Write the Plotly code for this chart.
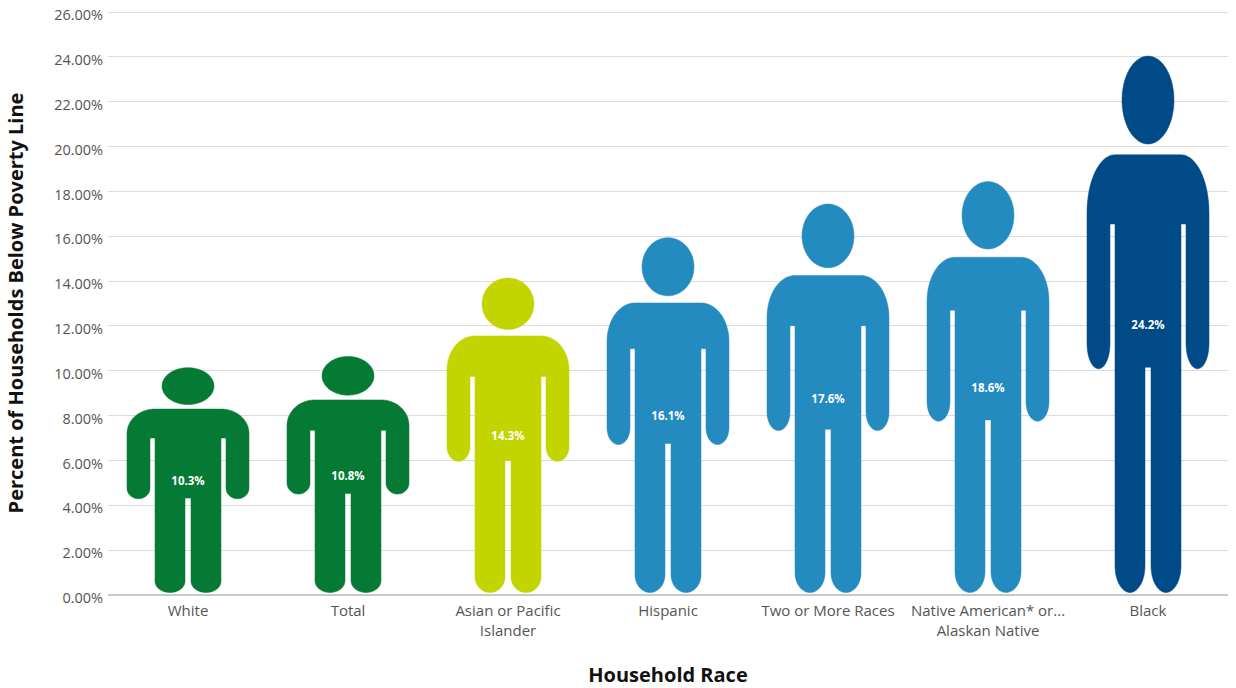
import numpy as np
import plotly.graph_objects as go

categories = ["White", "Total", "Asian or Pacific<br>Islander", "Hispanic", "Two or More Races",
              "Native American* or...<br>Alaskan Native", "Black"]
values = [10.3, 10.8, 14.3, 16.1, 17.6, 18.6, 24.2]
colors = ["#057A35", "#057A35", "#C3D500", "#248BC1", "#248BC1", "#248BC1", "#004B87"]
y_ticks = list(range(0, 27, 2))

SLOT_PX = 160.0
PAD_FOOT = 0.11
PAD_HEAD = 0.16
LABEL_NUDGE = 0.12


def arc(cx, cy, rx, ry, a0, a1, n=24):
    a = np.radians(np.linspace(a0, a1, n))
    return cx + rx * np.cos(a), cy + ry * np.sin(a)


def person():
    """Unit silhouette: u = px from centre, t = 0 at head top .. 1 at foot."""
    tT, tP, tA, tC = 0.184, 0.313, 0.583, 0.58
    rs, ra, rf = 0.108, 0.047, 0.05
    hx, hy = arc(0, 0.082, 26, 0.082, 0, 360, 60)
    sx, sy = arc(33, tT + rs, 28, rs, -90, 0)
    ax, ay = arc(49.5, tA - ra, 11.5, ra, 0, 180)
    fx, fy = arc(18, 1 - rf, 15, rf, 0, 180)
    ru = np.concatenate([[0], sx, ax, [38, 33], fx, [3, 3, 0]])
    rt = np.concatenate([[tT], sy, ay, [tP, tP], fy, [tC, tC, tC]])
    bu = np.concatenate([ru, -ru[::-1]])
    bt = np.concatenate([rt, rt[::-1]])
    return hx, hy, bu, bt


hx, hy, bu, bt = person()
fig = go.Figure()

for i, (cat, v, c) in enumerate(zip(categories, values, colors)):
    to_y = lambda t: PAD_FOOT + (v - PAD_FOOT - PAD_HEAD) * (1 - t)
    xs = list(i + hx / SLOT_PX) + [None] + list(i + bu / SLOT_PX)
    ys = list(to_y(hy)) + [None] + list(to_y(bt))
    fig.add_trace(go.Scatter(x=xs, y=ys, mode="lines", fill="toself", fillcolor=c,
                             line=dict(color=c, width=0.5, simplify=False),
                             hoverinfo="skip", showlegend=False))

fig.add_trace(go.Scatter(
    x=list(range(len(values))), y=[v / 2 - LABEL_NUDGE for v in values], mode="text",
    text=[f"{v:.1f}%" for v in values],
    textfont=dict(family="Open Sans", size=11.5, color="#FFFFFF", weight="bold"),
    textposition="middle center", hoverinfo="skip", showlegend=False))

fig.update_layout(
    width=1236, height=688,
    margin=dict(l=108, r=8, t=11.3, b=92.5),
    plot_bgcolor="#FFFFFF", paper_bgcolor="#FFFFFF",
    font=dict(family="Open Sans", color="#555555"),
    showlegend=False,
    xaxis=dict(range=[-0.5, 6.5], tickmode="array", tickvals=list(range(len(categories))),
               ticktext=categories, showgrid=False, zeroline=False, showline=False,
               ticks="outside", ticklen=2, tickcolor="rgba(0,0,0,0)", automargin=False,
               tickfont=dict(size=15, color="#555555"),
               title=dict(text="<b>Household Race</b>", font=dict(size=20, color="#111111"), standoff=41)),
    yaxis=dict(range=[0, 26.05], tickmode="array", tickvals=y_ticks,
               ticktext=[f"{t:.2f}%" for t in y_ticks],
               showgrid=True, gridcolor="#DDDDDD", gridwidth=1,
               zeroline=True, zerolinecolor="#C8C8C8", zerolinewidth=2, showline=False,
               ticks="outside", ticklen=1, tickcolor="rgba(0,0,0,0)", automargin=False,
               ticklabelshift=3, ticklabeloverflow="allow",
               tickfont=dict(size=14.5, color="#555555"),
               title=dict(text="<b>Percent of Households Below Poverty Line</b>",
                          font=dict(size=20, color="#111111"), standoff=25)),
)

fig.write_html("out.html", config={"displayModeBar": False},
               post_script="document.body.style.margin='0';")
